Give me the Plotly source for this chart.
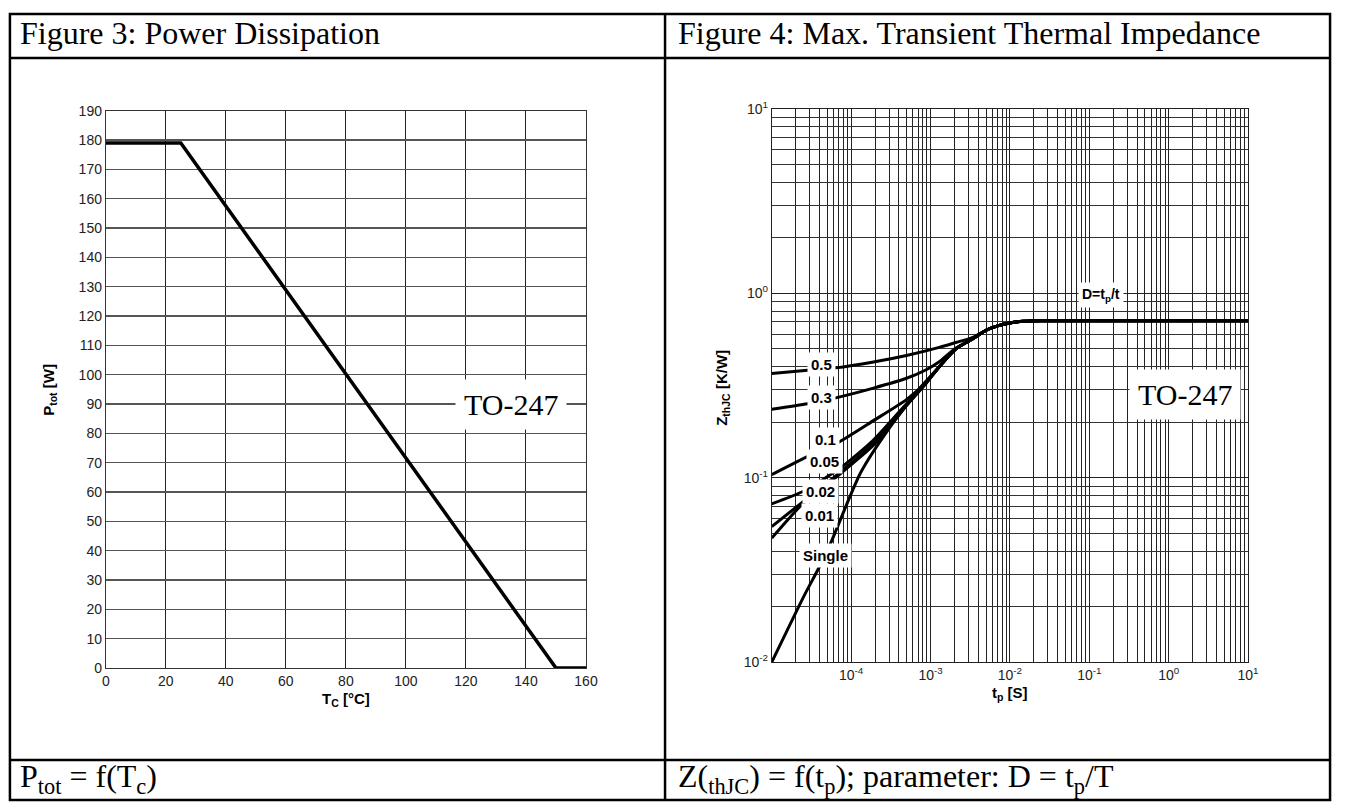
import numpy as np
import plotly.graph_objects as go

# ---------------- Figure 3: power dissipation vs case temperature ----------------
tc_c = [0, 25, 150, 160]
ptot_w = [179, 179, 0, 0]

# ---------------- Figure 4: max. transient thermal impedance ----------------
# common plateau reached by every duty-cycle curve
t_tail = [5e-3, 7e-3, 1e-2, 1.5e-2, 2.5e-2, 10]
z_tail = [0.63, 0.665, 0.69, 0.705, 0.71, 0.71]

t_d050 = [1e-5, 2.83e-5, 6.4e-5, 1.91e-4, 4.98e-4, 1.29e-3, 2.09e-3, 3.37e-3]
z_d050 = [0.367, 0.383, 0.394, 0.424, 0.46, 0.509, 0.541, 0.575]

t_d030 = [1e-5, 2.83e-5, 6.4e-5, 1.91e-4, 4.98e-4, 8.83e-4, 1.29e-3, 2.09e-3, 3.37e-3]
z_d030 = [0.235, 0.252, 0.271, 0.306, 0.346, 0.385, 0.425, 0.505, 0.565]

t_d010 = [1e-5, 3.43e-5, 7.0e-5, 1.91e-4, 4.98e-4, 8.83e-4, 1.29e-3, 2.09e-3, 3.37e-3]
z_d010 = [0.104, 0.136, 0.156, 0.204, 0.265, 0.33, 0.40, 0.50, 0.565]

t_d005 = [1e-5, 2.58e-5, 7.73e-5, 1.91e-4, 4.98e-4, 8.83e-4, 1.29e-3, 2.09e-3, 3.37e-3]
z_d005 = [0.0722, 0.085, 0.115, 0.16, 0.252, 0.328, 0.40, 0.50, 0.565]

t_d002 = [1e-5, 2.58e-5, 6.7e-5, 1.91e-4, 4.98e-4, 8.83e-4, 1.29e-3, 2.09e-3, 3.37e-3]
z_d002 = [0.0543, 0.0752, 0.104, 0.153, 0.248, 0.326, 0.40, 0.50, 0.565]

t_d001 = [1e-5, 2.45e-5, 6.7e-5, 1.91e-4, 4.98e-4, 8.83e-4, 1.29e-3, 2.09e-3, 3.37e-3]
z_d001 = [0.0471, 0.0722, 0.102, 0.150, 0.246, 0.325, 0.40, 0.50, 0.565]

t_single = [1e-5, 2.58e-5, 3.96e-5, 5.53e-5, 1.31e-4, 3.09e-4, 8.0e-4, 1.29e-3, 2.09e-3, 3.37e-3]
z_single = [0.01, 0.0231, 0.0327, 0.0443, 0.106, 0.188, 0.319, 0.40, 0.499, 0.565]

curve_labels = ["0.5", "0.3", "0.1", "0.05", "0.02", "0.01", "Single"]
curves_t = [t_d050, t_d030, t_d010, t_d005, t_d002, t_d001, t_single]
curves_z = [z_d050, z_d030, z_d010, z_d005, z_d002, z_d001, z_single]
# where each curve's tag sits (t, Z)
label_t = [4.24e-5, 4.25e-5, 4.8e-5, 4.6e-5, 4.16e-5, 3.96e-5, 4.7e-5]
label_z = [0.41, 0.271, 0.162, 0.123, 0.0844, 0.0627, 0.0377]

x_ticks = [1e-4, 1e-3, 1e-2, 1e-1, 1, 10]
x_ticktext = ["10<sup>-4</sup>", "10<sup>-3</sup>", "10<sup>-2</sup>",
              "10<sup>-1</sup>", "10<sup>0</sup>", "10<sup>1</sup>"]
y_ticks = [1e-2, 1e-1, 1, 10]
y_ticktext = ["10<sup>-2</sup>", "10<sup>-1</sup>", "10<sup>0</sup>", "10<sup>1</sup>"]

W, H = 1346, 812


def px(x):
    return x / W


def py(y):
    return 1 - y / H


SERIF = "Liberation Serif, Times New Roman, serif"
SANS = "Liberation Sans, Arial, sans-serif"

fig = go.Figure()

fig.add_trace(go.Scatter(x=tc_c, y=ptot_w, mode="lines",
                         line=dict(color="black", width=3.5),
                         xaxis="x", yaxis="y", showlegend=False,
                         hoverinfo="skip"))

for tt, zz in zip(curves_t, curves_z):
    fig.add_trace(go.Scatter(x=list(tt) + t_tail, y=list(zz) + z_tail,
                             mode="lines",
                             line=dict(color="black", width=3,
                                       shape="spline", smoothing=0.6),
                             xaxis="x2", yaxis="y2", showlegend=False,
                             hoverinfo="skip"))

tickfont = dict(family=SANS, size=14, color="#222")

# minor log grid positions (2..9 of every decade)
minor_x = [m * 10.0 ** e for e in range(-5, 1) for m in range(2, 10)]
minor_y = [m * 10.0 ** e for e in range(-2, 1) for m in range(2, 10)]

fig.update_layout(
    width=W, height=H, autosize=False,
    margin=dict(l=0, r=0, t=0, b=0),
    paper_bgcolor="white", plot_bgcolor="white",
    xaxis=dict(domain=[px(103), px(589)], range=[0, 160], tick0=0, dtick=20,
               showgrid=True, gridcolor="#222", gridwidth=1,
               showline=True, mirror=True, linecolor="#333", linewidth=1,
               zeroline=False, ticks="", tickfont=tickfont, anchor="y",
               fixedrange=True),
    yaxis=dict(domain=[py(673), py(103)], range=[0, 190], tick0=0, dtick=10,
               showgrid=True, gridcolor="#555", gridwidth=1.3,
               showline=True, mirror=True, linecolor="#333", linewidth=1,
               zeroline=False, ticks="", tickfont=tickfont, anchor="x",
               fixedrange=True),
    xaxis2=dict(domain=[px(777), px(1259)], type="log", range=[-5, 1],
                tickmode="array", tickvals=x_ticks, ticktext=x_ticktext,
                showgrid=True, gridcolor="#222", gridwidth=1,
                minor=dict(tickmode="array", tickvals=minor_x, showgrid=True,
                           gridcolor="#222", gridwidth=1, ticks=""),
                showline=True, mirror=True, linecolor="#222", linewidth=1,
                zeroline=False, ticks="", tickfont=tickfont, anchor="y2",
                fixedrange=True),
    yaxis2=dict(domain=[py(667), py(101)], type="log", range=[-2, 1],
                tickmode="array", tickvals=y_ticks, ticktext=y_ticktext,
                showgrid=True, gridcolor="#222", gridwidth=1,
                minor=dict(tickmode="array", tickvals=minor_y, showgrid=True,
                           gridcolor="#333", gridwidth=1, ticks=""),
                showline=True, mirror=True, linecolor="#222", linewidth=1,
                zeroline=False, ticks="", tickfont=tickfont, anchor="x2",
                fixedrange=True),
)

# ---------------- table frame ----------------
frame = dict(color="black", width=2.5)
shapes = [
    dict(type="rect", xref="paper", yref="paper", x0=px(6), x1=px(1342),
         y0=py(808), y1=py(4), line=frame),
    dict(type="line", xref="paper", yref="paper", x0=px(6), x1=px(1342),
         y0=py(49), y1=py(49), line=frame),
    dict(type="line", xref="paper", yref="paper", x0=px(6), x1=px(1342),
         y0=py(767), y1=py(767), line=frame),
    dict(type="line", xref="paper", yref="paper", x0=px(669), x1=px(669),
         y0=py(808), y1=py(4), line=frame),
]
fig.update_layout(shapes=shapes)

ann = []


def paper_text(text, x, y, size, family=SERIF, xanchor="left", angle=0):
    ann.append(dict(text=text, x=px(x), y=py(y), xref="paper", yref="paper",
                    xanchor=xanchor, yanchor="middle", showarrow=False,
                    textangle=angle, borderpad=0,
                    font=dict(family=family, size=size, color="black")))


# headers and footers of the table
paper_text("Figure 3: Power Dissipation", 15, 24, 32)
paper_text("Figure 4: Max. Transient Thermal Impedance", 681, 24, 32)
paper_text("P<sub>tot</sub> = f(T<sub>c</sub>)", 15, 786, 32)
paper_text("Z(<sub>thJC</sub>) = f(t<sub>p</sub>); parameter: D = t<sub>p</sub>/T",
           681, 786, 32)

# axis titles
paper_text("<b>P<sub>tot</sub> [W]</b>", 46, 388, 15, SANS, "center", -90)
paper_text("<b>T<sub>C</sub> [°C]</b>", 346, 705, 15, SANS, "center")
paper_text("<b>Z<sub>thJC</sub> [K/W]</b>", 727, 386, 15, SANS, "center", -90)
paper_text("<b>t<sub>p</sub> [S]</b>", 1018, 699, 15, SANS, "center")

# package tags
ann.append(dict(text="TO-247", x=135, y=90, xref="x", yref="y",
                showarrow=False, bgcolor="white", borderpad=8,
                font=dict(family=SERIF, size=30, color="black")))
ann.append(dict(text="TO-247", x=np.log10(1.6), y=np.log10(0.284),
                xref="x2", yref="y2", showarrow=False, bgcolor="white",
                borderpad=8, font=dict(family=SERIF, size=30, color="black")))

# duty-cycle tags on the impedance curves
ann.append(dict(text="<b>D=t<sub>p</sub>/t</b>", x=np.log10(0.14),
                y=np.log10(0.98), xref="x2", yref="y2", showarrow=False,
                bgcolor="white", borderpad=3,
                font=dict(family=SANS, size=14, color="black")))
for lab, lt, lz in zip(curve_labels, label_t, label_z):
    ann.append(dict(text=f"<b>{lab}</b>", x=np.log10(lt), y=np.log10(lz),
                    xref="x2", yref="y2", showarrow=False, bgcolor="white",
                    borderpad=3,
                    font=dict(family=SANS, size=15, color="black")))

fig.update_layout(annotations=ann)

fig.write_html("out.html", config=dict(displayModeBar=False, staticPlot=True))
